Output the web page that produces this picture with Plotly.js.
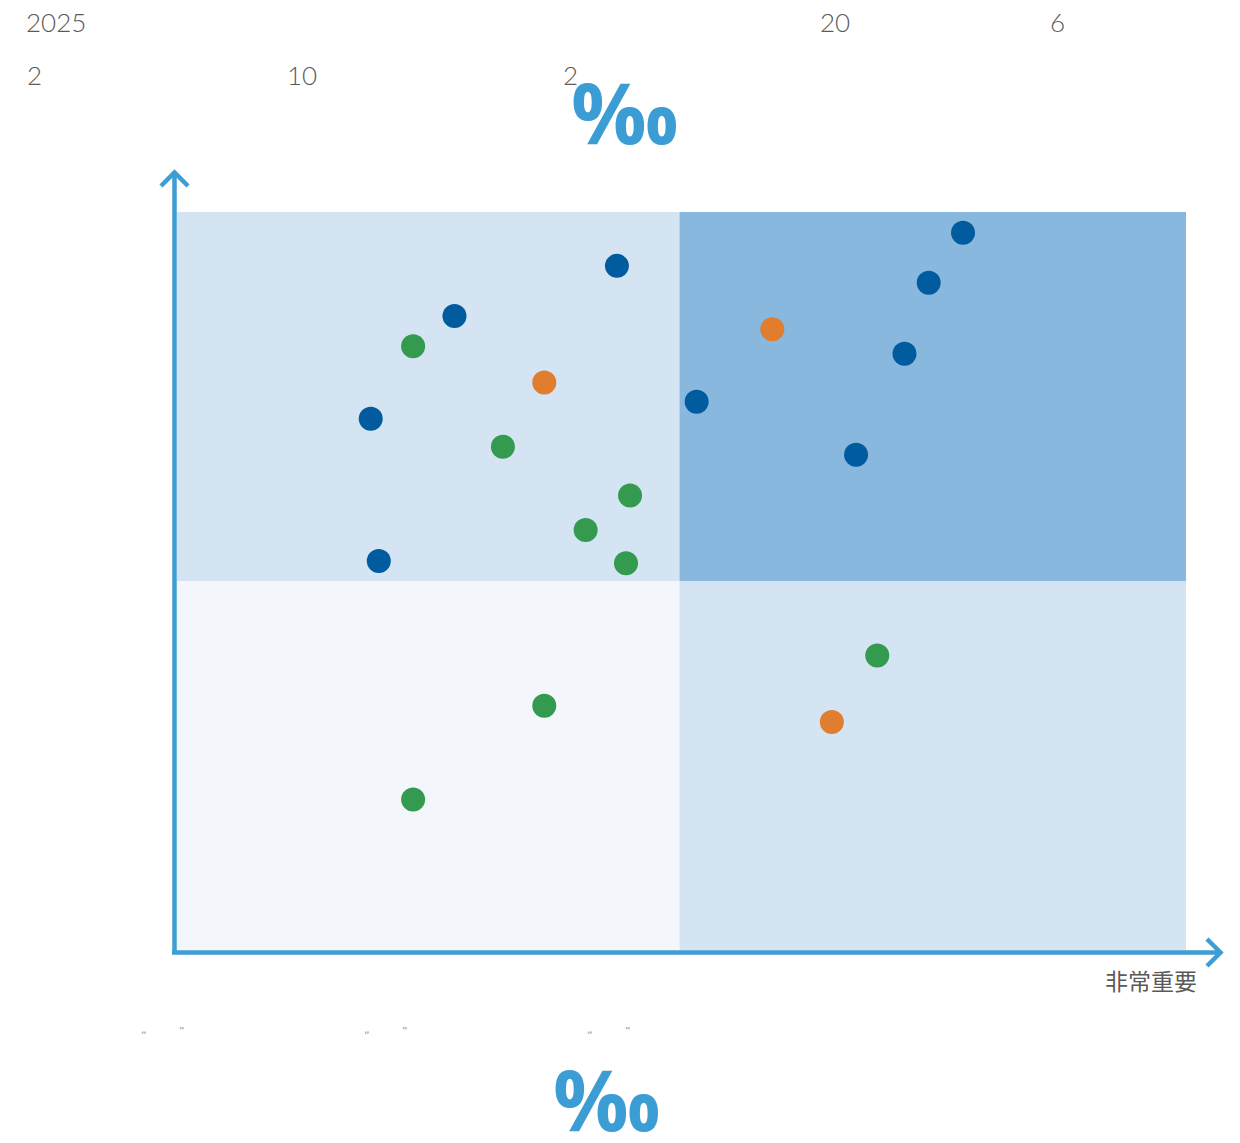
<!DOCTYPE html>
<html>
<head>
<meta charset="utf-8">
<script src="https://cdn.plot.ly/plotly-3.0.1.min.js"></script>
<style>
  html, body { margin: 0; padding: 0; background: #ffffff; }
  #chart { width: 1240px; height: 1143px; }
</style>
</head>
<body>
<div id="chart"></div>
<script>
// ---- data ----
const blueX = [4.36, 2.75, 1.92, 2.00, 5.15, 7.79, 7.45, 7.21, 6.73];
const blueY = [9.27, 8.59, 7.20, 5.27, 7.43, 9.72, 9.04, 8.08, 6.71];
const greenX = [2.34, 3.23, 4.49, 4.05, 4.45, 6.94, 3.64, 2.34];
const greenY = [8.18, 6.82, 6.16, 5.69, 5.24, 3.99, 3.31, 2.04];
const orangeX = [3.64, 5.90, 6.49];
const orangeY = [7.69, 8.41, 3.09];
const topRow1 = ["2025", "20", "6"];
const topRow2 = ["2", "10", "2"];
const rightLabel = "非常重要";
const bigSymbol = "‰";

// ---- layout geometry ----
const W = 1240, H = 1143;
const L = 177, R = 1186, T = 212, B = 950;
const px = x => (x - L) / (R - L);
const py = y => (B - y) / (B - T);

const markerSize = 24;
const traces = [
  {x: blueX, y: blueY, name: 'blue', mode: 'markers', type: 'scatter',
   marker: {color: '#005b9f', size: markerSize}},
  {x: greenX, y: greenY, name: 'green', mode: 'markers', type: 'scatter',
   marker: {color: '#339a4f', size: markerSize}},
  {x: orangeX, y: orangeY, name: 'orange', mode: 'markers', type: 'scatter',
   marker: {color: '#e07d2e', size: markerSize}}
];

const axisColor = '#3d9dd5';
const mid = 4.98;
const shapes = [
  {type: 'rect', xref: 'x', yref: 'y', x0: 0, x1: mid, y0: 5, y1: 10, fillcolor: '#d4e4f3', line: {width: 0}, layer: 'below'},
  {type: 'rect', xref: 'x', yref: 'y', x0: mid, x1: 10, y0: 5, y1: 10, fillcolor: '#88b8de', line: {width: 0}, layer: 'below'},
  {type: 'rect', xref: 'x', yref: 'y', x0: 0, x1: mid, y0: 0, y1: 5, fillcolor: '#f3f7fb', line: {width: 0}, layer: 'below'},
  {type: 'rect', xref: 'x', yref: 'y', x0: mid, x1: 10, y0: 0, y1: 5, fillcolor: '#d4e4f3', line: {width: 0}, layer: 'below'},
  {type: 'line', xref: 'paper', yref: 'paper', x0: px(174.5), x1: px(174.5), y0: py(954), y1: py(172), line: {color: axisColor, width: 4.5}},
  {type: 'line', xref: 'paper', yref: 'paper', x0: px(172), x1: px(1219), y0: py(952.5), y1: py(952.5), line: {color: axisColor, width: 4.5}},
  {type: 'path', xref: 'paper', yref: 'paper',
   path: `M ${px(161)} ${py(186)} L ${px(174.5)} ${py(172.5)} L ${px(188)} ${py(186)}`,
   line: {color: axisColor, width: 4.5}},
  {type: 'path', xref: 'paper', yref: 'paper',
   path: `M ${px(1207)} ${py(939)} L ${px(1220.5)} ${py(952.5)} L ${px(1207)} ${py(966)}`,
   line: {color: axisColor, width: 4.5}}
];

const grayFont = {family: 'Lato, "Noto Sans", sans-serif', size: 26, color: '#5a5a5a', weight: 300};
const ann = (text, x, y, font, xanchor) => ({
  text, xref: 'paper', yref: 'paper', x: px(x), y: py(y),
  xanchor: xanchor || 'left', yanchor: 'middle', showarrow: false, font
});
const bigFont = {family: '"Open Sans", "Noto Sans", sans-serif', size: 84, color: '#3b9dd4', weight: 700};
const quoteFont = {family: '"DejaVu Sans", sans-serif', size: 11, color: '#999'};

const annotations = [
  ann(topRow1[0], 24, 22, grayFont),
  ann(topRow1[1], 818, 22, grayFont),
  ann(topRow1[2], 1048, 22, grayFont),
  ann(topRow2[0], 25, 75, grayFont),
  ann(topRow2[1], 285, 75, grayFont),
  ann(topRow2[2], 561, 75, grayFont),
  ann(rightLabel, 1199, 980, {family: '"Noto Sans CJK SC", sans-serif', size: 23, color: '#5a5a5a'}, 'right'),
  ann(bigSymbol, 625, 112, bigFont, 'center'),
  ann(bigSymbol, 607, 1098, bigFont, 'center'),
  ann('„', 144, 1029, quoteFont, 'center'),
  ann('‟', 182, 1031, quoteFont, 'center'),
  ann('„', 367, 1029, quoteFont, 'center'),
  ann('‟', 405, 1031, quoteFont, 'center'),
  ann('„', 590, 1029, quoteFont, 'center'),
  ann('‟', 628, 1031, quoteFont, 'center')
];

const layout = {
  width: W, height: H,
  margin: {l: L, r: W - R, t: T, b: H - B, pad: 0},
  paper_bgcolor: '#ffffff', plot_bgcolor: '#ffffff',
  showlegend: false,
  xaxis: {range: [0, 10], showgrid: false, zeroline: false, showticklabels: false, ticks: '', showline: false, fixedrange: true},
  yaxis: {range: [0, 10], showgrid: false, zeroline: false, showticklabels: false, ticks: '', showline: false, fixedrange: true},
  shapes, annotations
};

Plotly.newPlot('chart', traces, layout, {displayModeBar: false, staticPlot: true});
</script>
</body>
</html>
